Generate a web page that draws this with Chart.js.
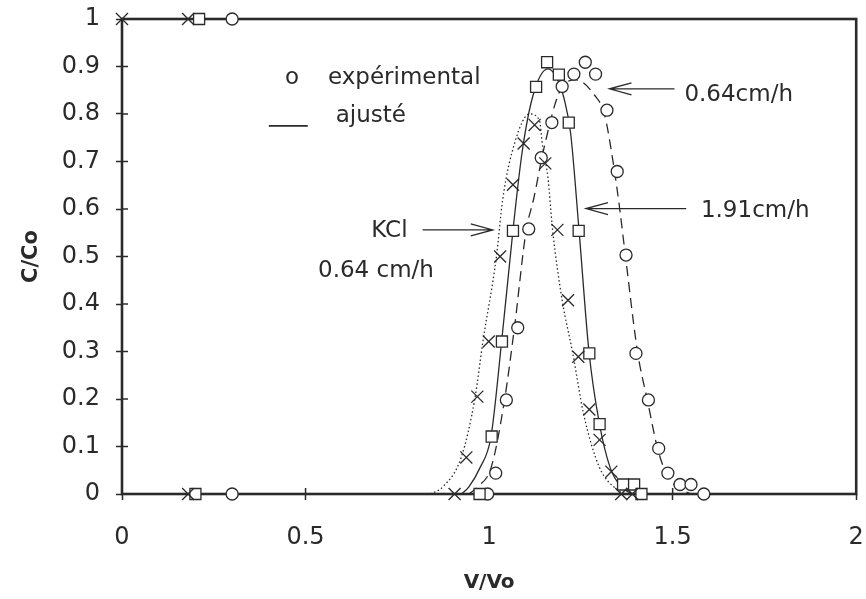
<!DOCTYPE html>
<html lang="fr">
<head>
<meta charset="UTF-8">
<title>C/Co - V/Vo</title>
<script src="https://cdn.jsdelivr.net/npm/chart.js"></script>
<style>
  html, body { margin: 0; padding: 0; background: #fff; }
</style>
</head>
<body>
<canvas id="chart" width="866" height="599"></canvas>
<script>
// experimental points, KCl 0.64 cm/h (crosses)
const kclX = [0, 0.18, 0.18, 0.906, 0.938, 0.968, 0.999, 1.030, 1.065, 1.094, 1.124, 1.153, 1.186, 1.215, 1.243, 1.273, 1.301, 1.333, 1.36, 1.39];
const kclY = [1, 1, 0, 0, 0.077, 0.205, 0.321, 0.50, 0.651, 0.738, 0.777, 0.696, 0.556, 0.408, 0.289, 0.178, 0.114, 0.047, 0, 0];

// experimental points, 1.91 cm/h (squares)
const fastX = [0.21, 0.2, 0.974, 1.007, 1.035, 1.065, 1.128, 1.158, 1.19, 1.217, 1.244, 1.273, 1.301, 1.365, 1.395, 1.415];
const fastY = [1, 0, 0, 0.121, 0.321, 0.554, 0.857, 0.909, 0.883, 0.782, 0.554, 0.296, 0.147, 0.02, 0.02, 0];

// experimental points, 0.64 cm/h (circles)
const slowX = [0.3, 0.3, 0.996, 1.018, 1.047, 1.078, 1.108, 1.142, 1.171, 1.199, 1.231, 1.262, 1.29, 1.321, 1.349, 1.373, 1.40, 1.434, 1.462, 1.487, 1.52, 1.55, 1.585];
const slowY = [1, 0, 0, 0.044, 0.198, 0.35, 0.558, 0.708, 0.782, 0.858, 0.884, 0.909, 0.884, 0.808, 0.679, 0.503, 0.296, 0.198, 0.096, 0.044, 0.02, 0.02, 0];

// fitted curves (ajusté)
const kclFitX = [0.84, 0.874, 0.924, 0.961, 0.983, 1.02, 1.037, 1.07, 1.11, 1.137, 1.146, 1.16, 1.173, 1.199, 1.228, 1.257, 1.30, 1.347, 1.37];
const kclFitY = [0, 0.015, 0.077, 0.2, 0.32, 0.5, 0.62, 0.74, 0.80, 0.787, 0.73, 0.668, 0.556, 0.408, 0.296, 0.17, 0.057, 0.01, 0];

const fastFitX = [0.925, 0.945, 0.975, 1.005, 1.034, 1.065, 1.09, 1.12, 1.16, 1.185, 1.205, 1.222, 1.245, 1.272, 1.30, 1.33, 1.36, 1.39];
const fastFitY = [0, 0.015, 0.055, 0.12, 0.32, 0.555, 0.72, 0.84, 0.895, 0.875, 0.83, 0.76, 0.555, 0.30, 0.15, 0.055, 0.015, 0];

const slowFitX = [0.945, 0.969, 1.006, 1.042, 1.069, 1.101, 1.121, 1.15, 1.192, 1.237, 1.287, 1.314, 1.337, 1.355, 1.37, 1.405, 1.431, 1.459, 1.482, 1.51, 1.55];
const slowFitY = [0, 0.015, 0.057, 0.198, 0.35, 0.555, 0.62, 0.73, 0.847, 0.872, 0.84, 0.80, 0.703, 0.605, 0.51, 0.296, 0.198, 0.096, 0.044, 0.015, 0];

const xTicks = [0, 0.5, 1, 1.5, 2];

function pts(xs, ys) {
    return xs.map((x, i) => ({ x: x, y: ys[i] }));
}

// 1 instead of 1.0, 0.5 stays 0.5
function shortLabel(v) {
    return String(Number(v.toFixed(1)));
}

const ink = '#2a2a2a';
const font = 'DejaVu Sans, sans-serif';

// box round the plot and small ticks inside it
const framePlugin = {
    id: 'frame',
    beforeDatasetsDraw(chart) {
        const a = chart.chartArea;
        const ctx = chart.ctx;
        ctx.save();
        ctx.strokeStyle = ink;
        ctx.lineWidth = 1.5;
        chart.scales.y.ticks.forEach(t => {
            const py = chart.scales.y.getPixelForValue(t.value);
            ctx.beginPath(); ctx.moveTo(a.left, py); ctx.lineTo(a.left + 6, py); ctx.stroke();
        });
        chart.scales.x.ticks.forEach(t => {
            const px = chart.scales.x.getPixelForValue(t.value);
            ctx.beginPath(); ctx.moveTo(px, a.bottom); ctx.lineTo(px, a.bottom - 6); ctx.stroke();
        });
        ctx.lineWidth = 2.6;
        ctx.strokeRect(a.left, a.top, a.right - a.left, a.bottom - a.top);
        ctx.restore();
    }
};

// legend text, labels and arrows written inside the plot
const notesPlugin = {
    id: 'notes',
    afterDatasetsDraw(chart) {
        const xs = chart.scales.x, ys = chart.scales.y;
        const ctx = chart.ctx;
        const X = v => xs.getPixelForValue(v);
        const Y = v => ys.getPixelForValue(v);
        ctx.save();
        ctx.fillStyle = ink;
        ctx.strokeStyle = ink;
        ctx.font = '23px ' + font;
        ctx.textBaseline = 'alphabetic';
        ctx.textAlign = 'center';
        ctx.fillText('o', X(0.463), Y(0.863));
        ctx.textAlign = 'left';
        ctx.fillText('expérimental', X(0.561), Y(0.863));
        ctx.fillText('ajusté', X(0.582), Y(0.784));
        ctx.fillText('KCl', X(0.679), Y(0.542));
        ctx.fillText('0.64 cm/h', X(0.534), Y(0.457));
        ctx.fillText('0.64cm/h', X(1.532), Y(0.828));
        ctx.fillText('1.91cm/h', X(1.577), Y(0.583));

        ctx.lineWidth = 1.8;
        ctx.beginPath(); ctx.moveTo(X(0.40), Y(0.775)); ctx.lineTo(X(0.506), Y(0.775)); ctx.stroke();

        ctx.lineWidth = 1.3;
        const arrow = (x0, x1, y) => {
            const px0 = X(x0), px1 = X(x1), py = Y(y);
            const d = px1 > px0 ? -1 : 1;
            ctx.beginPath();
            ctx.moveTo(px0, py); ctx.lineTo(px1, py);
            ctx.moveTo(px1 + d * 22, py - 6); ctx.lineTo(px1, py); ctx.lineTo(px1 + d * 22, py + 6);
            ctx.stroke();
        };
        arrow(0.819, 1.01, 0.556);
        arrow(1.505, 1.328, 0.853);
        arrow(1.537, 1.264, 0.601);
        ctx.restore();
    }
};

const markerBase = {
    showLine: false,
    borderColor: ink,
    backgroundColor: '#fff',
    borderWidth: 1.3,
    clip: false
};

const lineBase = {
    showLine: true,
    pointRadius: 0,
    borderColor: ink,
    borderWidth: 1.3,
    cubicInterpolationMode: 'monotone',
    fill: false
};

new Chart(document.getElementById('chart').getContext('2d'), {
    type: 'scatter',
    data: {
        datasets: [
            Object.assign({ label: 'KCl 0.64 cm/h', data: pts(kclX, kclY), pointStyle: 'crossRot', pointRadius: 8.5 }, markerBase),
            Object.assign({ label: '1.91cm/h', data: pts(fastX, fastY), pointStyle: 'rect', pointRadius: 7.8 }, markerBase),
            Object.assign({ label: '0.64cm/h', data: pts(slowX, slowY), pointStyle: 'circle', pointRadius: 6 }, markerBase),
            Object.assign({ label: 'KCl ajusté', data: pts(kclFitX, kclFitY), borderDash: [1.5, 2.5] }, lineBase),
            Object.assign({ label: '1.91 ajusté', data: pts(fastFitX, fastFitY) }, lineBase),
            Object.assign({ label: '0.64 ajusté', data: pts(slowFitX, slowFitY), borderDash: [10, 6] }, lineBase)
        ]
    },
    options: {
        responsive: false,
        animation: false,
        layout: { padding: { top: 19, right: 9, bottom: 0, left: 0 } },
        plugins: {
            legend: { display: false },
            tooltip: { enabled: false }
        },
        scales: {
            x: {
                type: 'linear',
                min: 0,
                max: 2,
                afterFit: s => { s.height = 105; s.paddingLeft = 0; s.paddingRight = 0; },
                afterBuildTicks: s => { s.ticks = xTicks.map(v => ({ value: v })); },
                border: { display: false },
                grid: { drawOnChartArea: false, tickLength: 6, tickColor: ink, tickWidth: 1.5 },
                ticks: { color: ink, font: { family: font, size: 24 }, padding: 23, maxRotation: 0, callback: v => shortLabel(v) },
                title: { display: true, text: 'V/Vo', color: ink, font: { family: font, size: 20, weight: 'bold' }, padding: { top: 0, bottom: 4 } }
            },
            y: {
                type: 'linear',
                min: 0,
                max: 1,
                afterFit: s => { s.width = 122; s.paddingTop = 0; s.paddingBottom = 0; },
                border: { display: false },
                grid: { drawOnChartArea: false, tickLength: 6, tickColor: ink, tickWidth: 1.5 },
                ticks: { stepSize: 0.1, color: ink, font: { family: font, size: 24 }, padding: 16, callback: v => shortLabel(v) },
                title: { display: true, text: 'C/Co', color: ink, font: { family: font, size: 21, weight: 'bold' }, padding: { top: 19, bottom: 0 } }
            }
        }
    },
    plugins: [framePlugin, notesPlugin]
});
</script>
</body>
</html>
